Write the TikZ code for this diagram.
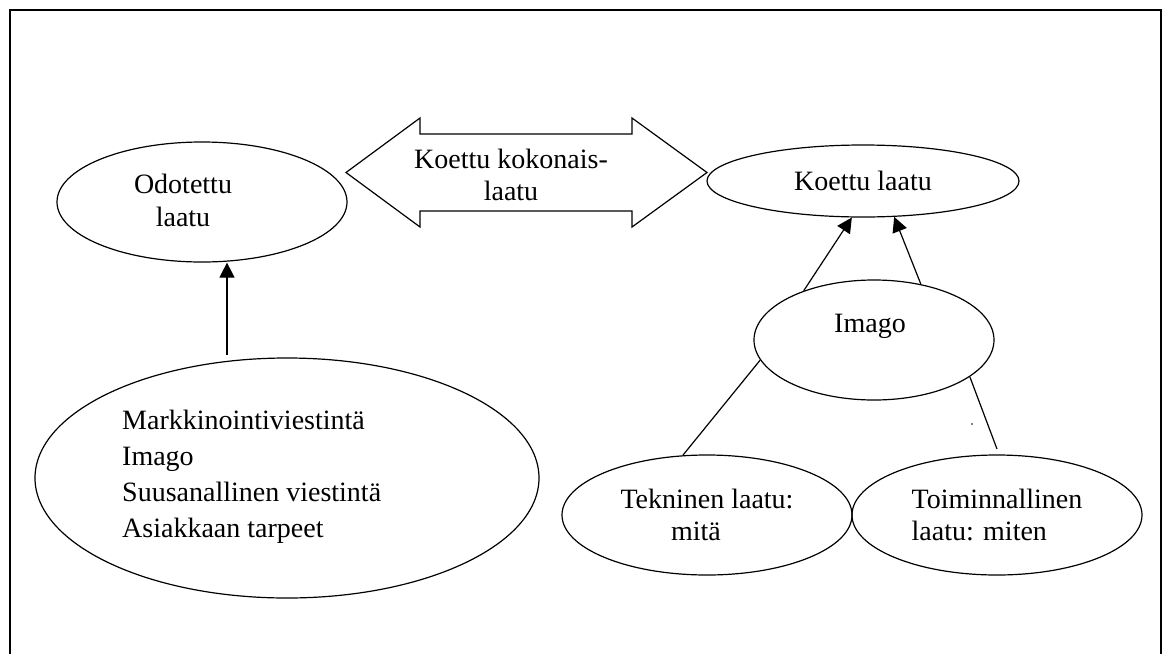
\documentclass[tikz,border=0pt]{standalone}
\usepackage{fontspec}
\setmainfont{Liberation Serif}
\usetikzlibrary{arrows.meta,shapes.geometric,calc}

\tikzset{
  oval/.style={ellipse, draw, line width=1.2pt, inner sep=0pt},
  txt/.style={font=\fontsize{28}{33}\selectfont, inner sep=0pt},
  arr/.style={-{Triangle[length=15pt,width=15pt]}, line width=1.2pt},
  link/.style={line width=1.2pt},
}

\begin{document}
\begin{tikzpicture}[x=1pt,y=-1pt]
  \useasboundingbox (0,0) rectangle (1171,654);
  % frame, open at the bottom
  \draw[line width=2pt] (10,654) -- (10,10) -- (1161,10) -- (1161,654);

  % left side
  \node[oval, minimum width=290pt, minimum height=120pt] (odot) at (202,202) {};
  \node[txt, align=center] (odottxt) at (183,200) {Odotettu\\laatu};
  \node[oval, minimum width=504pt, minimum height=240pt] (tekijat) at (287,478) {};
  \node[txt, align=left, font=\fontsize{28}{36}\selectfont, anchor=west] (tekijattxt)
    at (122,476.5) {Markkinointiviestintä\\Imago\\Suusanallinen viestintä\\Asiakkaan tarpeet};
  \coordinate (odottail) at (227,355);
  \draw[arr] (odottail) -- (odottail |- odot.south);

  % double arrow
  \draw[line width=1.2pt, line join=miter] (346,172.5) -- (420,118) -- (420,134) -- (632,134)
    -- (632,118) -- (707,172.5) -- (632,227) -- (632,211) -- (420,211) -- (420,227) -- cycle;
  \node[txt, align=center, font=\fontsize{28}{32}\selectfont] (kokotxt) at (511,175) {Koettu kokonais-\\laatu};

  % right side
  \node[oval, txt, minimum width=312pt, minimum height=72pt] (koettu) at (863,181) {Koettu laatu};
  \node[oval, minimum width=240pt, minimum height=120pt] (imago) at (874,340) {};
  \node[txt] (imagotxt) at (870,326) {Imago};
  \node[oval, txt, align=center, font=\fontsize{28}{32}\selectfont, minimum width=290pt,
        minimum height=120pt] (tekn) at (707,515) {Tekninen laatu:\\mitä\hspace*{22pt}};
  \node[oval, txt, align=left, font=\fontsize{28}{32}\selectfont, minimum width=290pt,
        minimum height=120pt] (toim) at (997,515) {Toiminnallinen\\laatu: miten};

  \draw[arr] (imago.145) -- (koettu.253);
  \draw[arr] (imago.50) -- (koettu.311);
  \draw[link] (imago.190) -- (tekn.112);
  \coordinate (toimtop) at (997,449);
  \draw[link] (imago.339) -- (toimtop);
  \fill (972,424) circle (0.9);
\end{tikzpicture}
\end{document}
